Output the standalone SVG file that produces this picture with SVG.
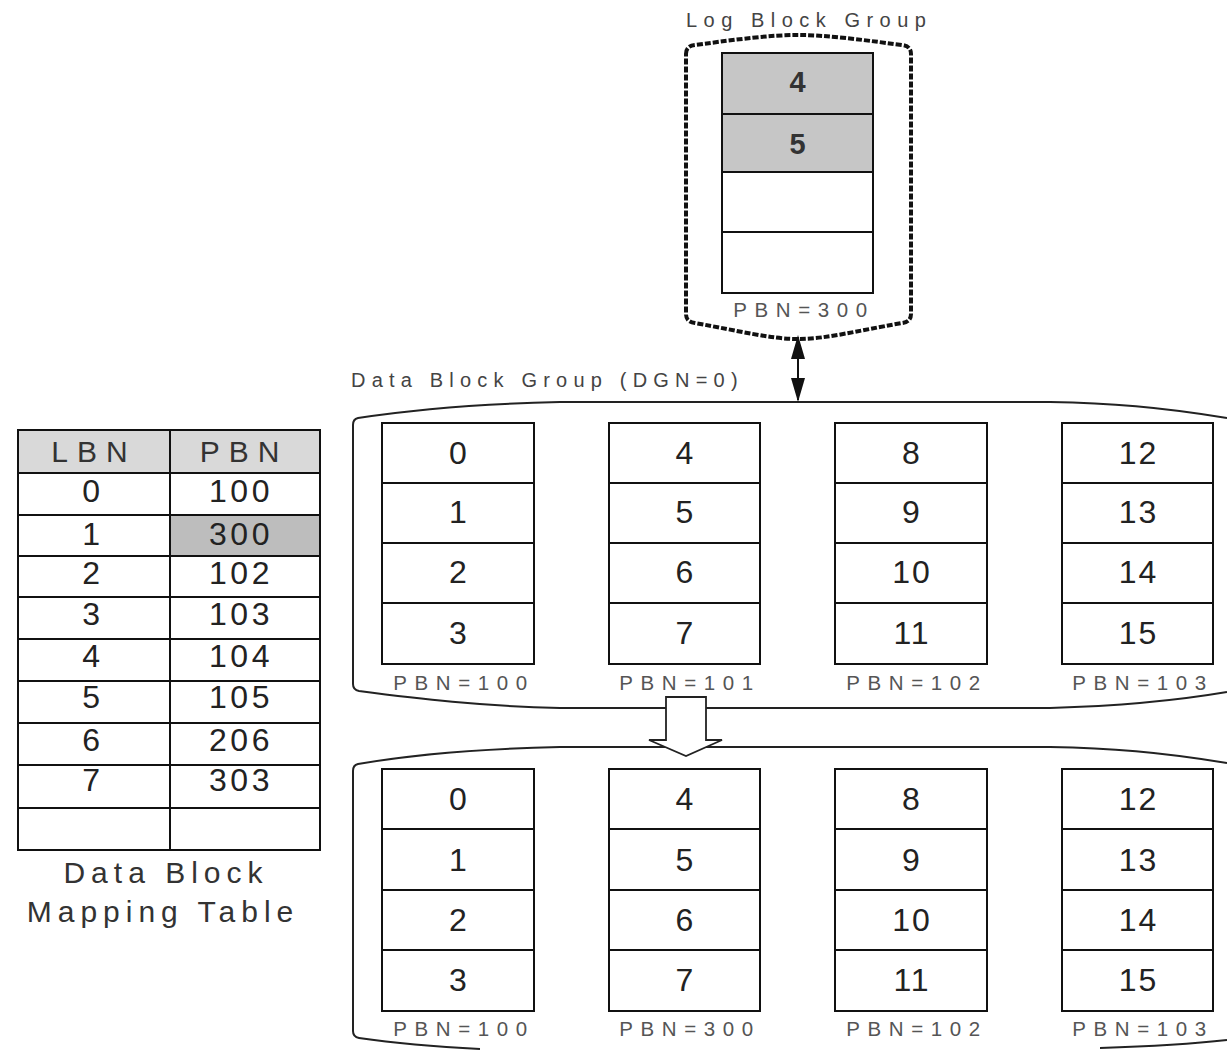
<svg xmlns="http://www.w3.org/2000/svg" width="1227" height="1050" viewBox="0 0 1227 1050">
<defs>
<style>
.bg{fill:#fff}
.cell{fill:#fff;stroke:#111;stroke-width:2}
.gray{fill:#c6c6c6;stroke:#111;stroke-width:2}
.ln{stroke:#111;stroke-width:2;fill:none}
.grp{fill:none;stroke:#222;stroke-width:2}
.num{font-family:"Liberation Sans",Arial,sans-serif;font-size:32px;fill:#222;text-anchor:middle;letter-spacing:2px}
.lognum{font-family:"Liberation Sans",Arial,sans-serif;font-size:29px;font-weight:bold;fill:#333;text-anchor:middle}
.pbn{font-family:"Liberation Sans",Arial,sans-serif;font-size:20.5px;fill:#555;text-anchor:middle;letter-spacing:7.6px}
.lbl{font-family:"Liberation Sans",Arial,sans-serif;font-size:20px;fill:#444;letter-spacing:6.5px}
.hdr{font-family:"Liberation Sans",Arial,sans-serif;font-size:30px;fill:#333;text-anchor:middle;letter-spacing:9px}
.tnum{font-family:"Liberation Sans",Arial,sans-serif;font-size:32px;fill:#222;text-anchor:middle;letter-spacing:3.5px}
.cap{font-family:"Liberation Sans",Arial,sans-serif;font-size:30px;fill:#333;text-anchor:middle;letter-spacing:6px}
</style>
<marker id="ah" viewBox="0 0 24 14" refX="22" refY="7" markerWidth="24" markerHeight="14" markerUnits="userSpaceOnUse" orient="auto-start-reverse">
<path d="M0 0 L24 7 L0 14 Z" fill="#111"/>
</marker>
</defs>
<rect class="bg" x="0" y="0" width="1227" height="1050"/>

<g id="log-block-group">
<path d="M686 54 Q686 46 695 45 C740 39 770 35 798 35 C826 35 856 39 902 45 Q911 46 911 54 L911 314 Q911 322 902 323 C856 331 826 339 798 339 C770 339 740 331 695 323 Q686 322 686 314 Z" fill="none" stroke="#111" stroke-width="4" stroke-dasharray="6 2"/>
<text class="lbl" x="686" y="27">Log Block Group</text>
<rect class="gray" x="722" y="53" width="151" height="61"/>
<rect class="gray" x="722" y="114" width="151" height="58"/>
<rect class="cell" x="722" y="172" width="151" height="60"/>
<rect class="cell" x="722" y="232" width="151" height="61"/>
<text class="lognum" x="797.5" y="92">4</text>
<text class="lognum" x="797.5" y="154">5</text>
<text class="pbn" x="804" y="317">PBN=300</text>
</g>

<g id="data-block-group-before">
<path class="grp" d="M1227 418 C1160 407 1110 403 1050 402 L560 402 C470 404 410 410 358 418 Q353 419 353 425 L353 684 Q353 690 359 691 C420 699 480 706 560 708 L1050 708 C1120 706 1180 700 1227 692"/>
<text class="lbl" x="351" y="387" style="letter-spacing:6.2px">Data Block Group (DGN=0)</text>
<g id="blk-100-before">
<rect class="cell" x="382" y="423" width="152" height="241"/>
<path class="ln" d="M382 483H534M382 543H534M382 603H534"/>
<text class="num" x="459" y="464">0</text><text class="num" x="459" y="523">1</text><text class="num" x="459" y="583">2</text><text class="num" x="459" y="644">3</text>
<text class="pbn" x="464" y="690">PBN=100</text>
</g>
<g id="blk-101-before">
<rect class="cell" x="609" y="423" width="151" height="241"/>
<path class="ln" d="M609 483H760M609 543H760M609 603H760"/>
<text class="num" x="685.5" y="464">4</text><text class="num" x="685.5" y="523">5</text><text class="num" x="685.5" y="583">6</text><text class="num" x="685.5" y="644">7</text>
<text class="pbn" x="690" y="690">PBN=101</text>
</g>
<g id="blk-102-before">
<rect class="cell" x="835" y="423" width="152" height="241"/>
<path class="ln" d="M835 483H987M835 543H987M835 603H987"/>
<text class="num" x="912" y="464">8</text><text class="num" x="912" y="523">9</text><text class="num" x="912" y="583">10</text><text class="num" x="912" y="644">11</text>
<text class="pbn" x="917" y="690">PBN=102</text>
</g>
<g id="blk-103-before">
<rect class="cell" x="1062" y="423" width="151" height="241"/>
<path class="ln" d="M1062 483H1213M1062 543H1213M1062 603H1213"/>
<text class="num" x="1138.5" y="464">12</text><text class="num" x="1138.5" y="523">13</text><text class="num" x="1138.5" y="583">14</text><text class="num" x="1138.5" y="644">15</text>
<text class="pbn" x="1143" y="690">PBN=103</text>
</g>
</g>

<g id="data-block-group-after">
<path class="grp" d="M1227 763 C1160 752 1110 748 1050 747 L560 747 C470 749 410 755 358 764 Q353 765 353 771 L353 1031 Q353 1037 359 1038 C400 1044 440 1047 480 1049 M1100 1048 C1160 1046 1200 1043 1227 1040"/>
<g id="blk-100-after">
<rect class="cell" x="382" y="769" width="152" height="242"/>
<path class="ln" d="M382 829H534M382 890H534M382 950H534"/>
<text class="num" x="459" y="810">0</text><text class="num" x="459" y="871">1</text><text class="num" x="459" y="931">2</text><text class="num" x="459" y="991">3</text>
<text class="pbn" x="464" y="1036">PBN=100</text>
</g>
<g id="blk-300-after">
<rect class="cell" x="609" y="769" width="151" height="242"/>
<path class="ln" d="M609 829H760M609 890H760M609 950H760"/>
<text class="num" x="685.5" y="810">4</text><text class="num" x="685.5" y="871">5</text><text class="num" x="685.5" y="931">6</text><text class="num" x="685.5" y="991">7</text>
<text class="pbn" x="690" y="1036">PBN=300</text>
</g>
<g id="blk-102-after">
<rect class="cell" x="835" y="769" width="152" height="242"/>
<path class="ln" d="M835 829H987M835 890H987M835 950H987"/>
<text class="num" x="912" y="810">8</text><text class="num" x="912" y="871">9</text><text class="num" x="912" y="931">10</text><text class="num" x="912" y="991">11</text>
<text class="pbn" x="917" y="1036">PBN=102</text>
</g>
<g id="blk-103-after">
<rect class="cell" x="1062" y="769" width="151" height="242"/>
<path class="ln" d="M1062 829H1213M1062 890H1213M1062 950H1213"/>
<text class="num" x="1138.5" y="810">12</text><text class="num" x="1138.5" y="871">13</text><text class="num" x="1138.5" y="931">14</text><text class="num" x="1138.5" y="991">15</text>
<text class="pbn" x="1143" y="1036">PBN=103</text>
</g>
</g>

<g id="mapping-table">
<rect x="18" y="430" width="302" height="43" fill="#d9d9d9"/>
<rect x="170" y="515" width="150" height="41" fill="#bdbdbd"/>
<rect x="18" y="430" width="302" height="420" fill="none" stroke="#111" stroke-width="2"/>
<path class="ln" d="M170 430V850M18 473H320M18 515H320M18 556H320M18 597H320M18 639H320M18 681H320M18 723H320M18 765H320M18 808H320"/>
<text class="hdr" x="94" y="462">LBN</text><text class="hdr" x="244" y="462">PBN</text>
<text class="tnum" x="93" y="502">0</text><text class="tnum" x="241" y="502">100</text>
<text class="tnum" x="93" y="545">1</text><text class="tnum" x="241" y="545">300</text>
<text class="tnum" x="93" y="584">2</text><text class="tnum" x="241" y="584">102</text>
<text class="tnum" x="93" y="625">3</text><text class="tnum" x="241" y="625">103</text>
<text class="tnum" x="93" y="667">4</text><text class="tnum" x="241" y="667">104</text>
<text class="tnum" x="93" y="708">5</text><text class="tnum" x="241" y="708">105</text>
<text class="tnum" x="93" y="751">6</text><text class="tnum" x="241" y="751">206</text>
<text class="tnum" x="93" y="791">7</text><text class="tnum" x="241" y="791">303</text>
<text class="cap" x="166" y="883">Data Block</text>
<text class="cap" x="163" y="922">Mapping Table</text>
</g>

<g id="connectors">
<line x1="798" y1="337" x2="798" y2="400" stroke="#111" stroke-width="2" marker-start="url(#ah)" marker-end="url(#ah)"/>
<polygon points="666,697 706,697 706,740 722,740 686,756 649,740 666,740" fill="#fff" stroke="#222" stroke-width="1.8" stroke-linejoin="miter"/>
</g>
</svg>
